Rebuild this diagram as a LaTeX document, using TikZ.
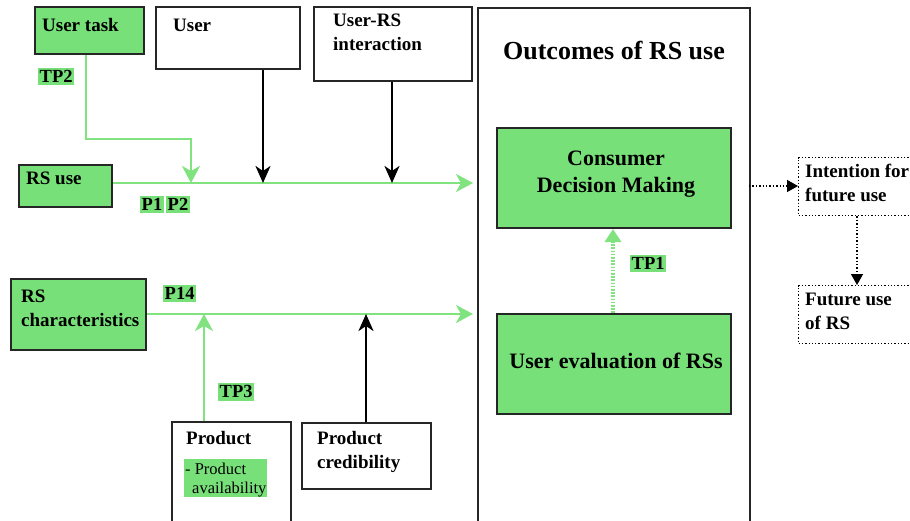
\documentclass[tikz,border=0pt]{standalone}
\usepackage{fontspec}
\setmainfont{Liberation Serif}
\usetikzlibrary{arrows.meta}
\definecolor{leaf}{HTML}{78E078}
\definecolor{leafline}{HTML}{80E380}
\tikzset{
  box/.style={draw=black!85, line width=2pt, anchor=north west, inner sep=0pt},
  gbox/.style={box, fill=leaf},
  dotbox/.style={draw=black, line width=1.3pt, dotted, anchor=north west, inner sep=0pt},
  % multi-line texts are placed by the baseline of their last line
  txt/.style={anchor=base west, inner sep=0pt, font=\fontsize{19}{24}\selectfont\bfseries, align=left},
  ctxt/.style={anchor=base, inner sep=0pt, font=\fontsize{22}{27}\selectfont\bfseries, align=center},
  tag/.style={fill=leaf, inner xsep=1.5pt, inner ysep=2.5pt, font=\fontsize{18.5}{20}\selectfont\bfseries, anchor=north west},
  garrow/.style={draw=leafline, line width=2.6pt, -{Stealth[length=17pt, width=18pt, inset=5pt]}},
  barrow/.style={draw=black, line width=2.6pt, -{Stealth[length=17pt, width=15pt, inset=5pt]}},
  darrow/.style={draw=black, line width=1.4pt, dotted, -{Triangle[length=11pt, width=12pt]}},
}
\begin{document}
\begin{tikzpicture}[x=1pt, y=-1pt]
\clip (0,0) rectangle (910,520);
\fill[white] (0,0) rectangle (910,520);

% boxes
\node[gbox, minimum width=109pt, minimum height=47pt] (task) at (34,6) {};
\node[box, minimum width=144pt, minimum height=62pt] (user) at (155,6) {};
\node[box, minimum width=158pt, minimum height=74pt] (inter) at (313,6) {};
\node[box, minimum width=272pt, minimum height=530pt] (out) at (477,7) {};
\node[gbox, minimum width=93pt, minimum height=42pt] (use) at (18,164) {};
\node[gbox, minimum width=135pt, minimum height=71pt] (chars) at (10,278) {};
\node[box, minimum width=119pt, minimum height=110pt] (prod) at (171,421) {};
\node[box, minimum width=129pt, minimum height=66pt] (cred) at (301,422) {};
\node[gbox, minimum width=234pt, minimum height=100pt] (cdm) at (496,127) {};
\node[gbox, minimum width=234pt, minimum height=100pt] (eval) at (496,313) {};
\node[dotbox, minimum width=125pt, minimum height=58pt] (intent) at (798,157) {};
\node[dotbox, minimum width=125pt, minimum height=58pt] (future) at (798,285) {};

% box texts
\node[txt] (taskT) at (42,31) {User task};
\node[txt] (userT) at (173,31) {User};
\node[txt] (interT) at (333,50) {User-RS\\interaction};
\node[anchor=base, inner sep=0pt, font=\fontsize{26}{30}\selectfont\bfseries] (outT) at (614,59) {Outcomes of RS use};
\node[txt] (useT) at (26,184) {RS use};
\node[txt] (charsT) at (21,326) {RS\\characteristics};
\node[txt] (prodT) at (186,444) {Product};
\node[fill=leaf, anchor=north west, inner sep=0pt, minimum width=83pt, minimum height=38pt] (avail) at (184,459) {};
\node[anchor=base west, inner sep=0pt, font=\fontsize{16.5}{19}\selectfont, align=left] (availT) at (185,493) {- Product\\\hspace*{7pt}availability};
\node[txt] (credT) at (317,468) {Product\\credibility};
\node[ctxt] (cdmT) at (616,192) {Consumer\\Decision Making};
\node[ctxt] (evalT) at (616,368) {User evaluation of RSs};
\node[txt] (intentT) at (805,201) {Intention for\\future use};
\node[txt] (futureT) at (805,329) {Future use\\of RS};

% path labels
\node[tag] (tp2) at (38,68) {TP2};
\node[tag] (p1) at (140,196) {P1};
\node[tag] (p2) at (166,196) {P2};
\node[tag] (p14) at (163,285) {P14};
\node[tag] (tp3) at (218,383) {TP3};
\node[tag] (tp1) at (630,255) {TP1};

% connectors
\coordinate (useEnd) at (473,183);
\coordinate (charsEnd) at (473,314);
\draw[garrow] (use.east |- useEnd) -- (useEnd);
\draw[garrow] (chars.east |- charsEnd) -- (charsEnd);
\draw[garrow, line width=2pt] (task.south -| 86,0) |- (191,139) -- (191,183);
\draw[barrow] (user.south -| 263,0) -- (263,183);
\draw[barrow] (inter.south -| 392,0) -- (392,183);
\draw[garrow] (prod.north -| 204,0) -- (204,314);
\draw[barrow] (cred.north -| 366,0) -- (366,314);
\draw[draw=leafline, line width=4.5pt, dash pattern=on 1.6pt off 1.6pt,
      -{Triangle[length=13pt, width=16pt, fill=leafline]}]
  (eval.north -| 613,0) -- (cdm.south -| 613,0);
\draw[darrow] (749,186) -- (intent.west |- 749,186);
\draw[darrow] (intent.south -| 857,0) -- (future.north -| 857,0);
\end{tikzpicture}
\end{document}
